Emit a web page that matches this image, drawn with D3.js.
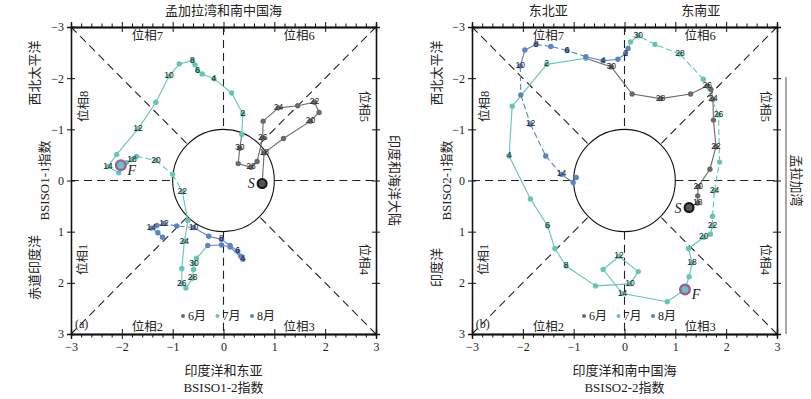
<!DOCTYPE html>
<html>
<head>
<meta charset="utf-8">
<script src="https://cdn.jsdelivr.net/npm/d3@7"></script>
<style>
body { margin: 0; background: #fff; }
text { font-family: "Liberation Serif", "Noto Sans CJK SC", serif; fill: #222; }
</style>
</head>
<body>
<div id="chart-area"></div>
<script>
// tick labels, legend
var ticks = [-3, -2, -1, 0, 1, 2, 3];
var months = ["6月", "7月", "8月"];
var colors = ["#6b6b6b", "#63c6b6", "#5b84c5"];

// panel (a): [day, BSISO1-2, BSISO1-1]
var junA = [[17,0.76,0.06],[18,0.80,-0.54],[19,1.18,-0.82],[20,1.71,-1.16],[21,1.88,-1.33],[22,1.79,-1.53],
  [23,1.46,-1.46],[24,1.08,-1.42],[25,0.78,-1.16],[26,0.77,-0.83],[27,0.66,-0.37],[28,0.54,-0.26],
  [29,0.29,-0.33],[30,0.32,-0.63]];
var julA = [[1,0.36,-0.90],[2,0.38,-1.30],[3,0.16,-1.71],[4,-0.19,-1.99],[5,-0.42,-2.08],[6,-0.51,-2.15],
  [7,-0.56,-2.26],[8,-0.61,-2.34],[9,-0.87,-2.28],[10,-1.07,-2.04],[11,-1.33,-1.53],[12,-1.68,-1.01],
  [13,-2.10,-0.51],[14,-2.27,-0.27],[15,-2.06,-0.15],[16,-2.02,-0.30],[17,-1.91,-0.35],[18,-1.80,-0.41],
  [19,-1.71,-0.47],[20,-1.33,-0.39],[21,-1.00,-0.12],[22,-0.81,0.22],[23,-0.70,0.78],[24,-0.77,1.19],
  [25,-0.82,1.72],[26,-0.82,2.02],[27,-0.74,2.10],[28,-0.61,1.91],[29,-0.59,1.74],[30,-0.58,1.62],[31,-0.53,1.52]];
var augA = [[1,-0.31,1.27],[2,-0.04,1.26],[3,0.13,1.30],[4,0.38,1.54],[5,0.34,1.48],[6,0.28,1.38],
  [7,0.13,1.27],[8,-0.04,1.15],[9,-0.29,1.09],[10,-0.59,0.92],[11,-0.92,0.89],[12,-1.17,0.84],
  [13,-1.31,0.88],[14,-1.42,0.93],[15,-1.29,1.02],[16,-1.20,1.11]];

// panel (b): [day, BSISO2-2, BSISO2-1]
var junB = [[17,1.27,0.53],[18,1.44,0.44],[19,1.44,0.30],[20,1.45,0.12],[21,1.68,-0.22],[22,1.80,-0.66],
  [23,1.75,-1.18],[24,1.74,-1.59],[25,1.70,-1.78],[26,1.63,-1.85],[27,1.30,-1.69],[28,0.71,-1.60],
  [29,0.15,-1.69],[30,-0.26,-2.22]];
var julB = [[1,-0.76,-2.39],[2,-1.53,-2.27],[3,-2.21,-1.45],[4,-2.27,-0.48],[5,-1.85,0.36],[6,-1.51,0.89],
  [7,-1.37,1.33],[8,-1.15,1.67],[9,-0.57,2.06],[10,0.11,2.02],[11,0.27,1.78],[12,-0.11,1.48],
  [13,-0.42,1.74],[14,-0.04,2.21],[15,0.84,2.37],[16,1.19,2.13],[17,1.27,1.88],[18,1.33,1.61],
  [19,1.26,1.33],[20,1.56,1.11],[21,1.69,1.05],[22,1.73,0.89],[23,1.73,0.70],[24,1.77,0.20],
  [25,1.87,-0.36],[26,1.85,-1.28],[27,1.55,-1.98],[28,1.09,-2.47],[29,0.60,-2.66],[30,0.27,-2.83],[31,0.12,-2.71]];
var augB = [[1,0.07,-2.58],[2,0.02,-2.48],[3,-0.13,-2.37],[4,-0.42,-2.34],[5,-0.76,-2.42],[6,-1.13,-2.54],
  [7,-1.45,-2.62],[8,-1.74,-2.66],[9,-1.96,-2.55],[10,-2.05,-2.24],[11,-2.04,-1.67],[12,-1.85,-1.10],
  [13,-1.55,-0.48],[14,-1.24,-0.12],[15,-1.01,0.04],[16,-0.95,-0.06]];

// labelled days
var labJunA = [18,20,22,24,26,28,30];
var labJulA = [2,4,6,8,10,12,14,18,20,22,24,26,28,30];
var labAugA = [4,6,8,10,12,14];
var labJunB = [18,20,22,24,26,28,30];
var labJulB = [2,4,6,8,10,12,14,18,20,22,24,26,28,30];
var labAugB = [2,4,6,8,10,12,14];

// dashed segments (start day)
var julDashA = [18,19,20,21];
var augDashA = [10,11];
var julDashB = [22,23,24,25,26,27,28,29];
var augDashB = [5,6,7,10,11,12,13];

var startDay = 17; // June, S
var finalDay = 16; // July, F

var svg = d3.select("#chart-area").append("svg")
  .attr("width", 811).attr("height", 399);

function fmt(v) { return v < 0 ? "\u2212" + Math.abs(v) : String(v); }

function panel(p) {
  var x = d3.scaleLinear().domain([-3, 3]).range([p.x0, p.x0 + 305]);
  var y = d3.scaleLinear().domain([-3, 3]).range([27, 334]);
  var g = svg.append("g");

  // dashed phase lines
  var d = 1 / Math.SQRT2;
  var guides = [[-3,0,-1,0],[1,0,3,0],[0,-3,0,-1],[0,1,0,3],
    [-3,-3,-d,-d],[3,-3,d,-d],[-3,3,-d,d],[3,3,d,d]];
  g.selectAll(".guide").data(guides).enter().append("line")
    .attr("x1", (l) => x(l[0])).attr("y1", (l) => y(l[1]))
    .attr("x2", (l) => x(l[2])).attr("y2", (l) => y(l[3]))
    .attr("stroke", "#222").attr("stroke-width", 1.1).attr("stroke-dasharray", "8,5");
  g.append("ellipse")
    .attr("cx", x(0)).attr("cy", y(0))
    .attr("rx", x(1) - x(0)).attr("ry", y(1) - y(0))
    .attr("fill", "none").attr("stroke", "#111").attr("stroke-width", 1.1);

  // axes
  var minor = d3.range(-2.8, 3, 0.2).filter((v) => Math.abs(v - Math.round(v)) > 0.01);
  function ax(gen, tr, sz, vals, lab) {
    var a = gen.tickValues(vals).tickSizeOuter(0).tickSize(sz)
      .tickFormat(lab ? fmt : "");
    var gg = g.append("g").attr("transform", tr).call(a);
    gg.selectAll("path").attr("stroke", "#111").attr("stroke-width", 1.3);
    gg.selectAll("line").attr("stroke", "#111").attr("stroke-width", 1);
    gg.selectAll("text").attr("font-size", 12).attr("font-family", "Liberation Serif").attr("fill", "#222");
  }
  ax(d3.axisBottom(x), "translate(0,334)", 5, ticks, true);
  ax(d3.axisBottom(x), "translate(0,334)", -5, ticks, false);
  ax(d3.axisBottom(x), "translate(0,334)", 3.5, minor, false);
  ax(d3.axisTop(x), "translate(0,27)", 5, ticks, false);
  ax(d3.axisTop(x), "translate(0,27)", -5, ticks, false);
  ax(d3.axisTop(x), "translate(0,27)", 3.5, minor, false);
  ax(d3.axisLeft(y), "translate(" + p.x0 + ",0)", 4, ticks, true);
  ax(d3.axisLeft(y), "translate(" + p.x0 + ",0)", -4, ticks, false);
  ax(d3.axisRight(y), "translate(" + (p.x0 + 305) + ",0)", 4, ticks, false);
  ax(d3.axisRight(y), "translate(" + (p.x0 + 305) + ",0)", -4, ticks, false);

  // phase labels
  var phases = [["位相7",-1.5,-2.84,0],["位相6",1.49,-2.84,0],["位相8",-2.75,-1.45,-90],["位相5",2.77,-1.45,90],
    ["位相1",-2.78,1.54,-90],["位相4",2.77,1.54,90],["位相2",-1.5,2.85,0],["位相3",1.49,2.85,0]];
  g.selectAll(".phase").data(phases).enter().append("text")
    .attr("transform", (t) => "translate(" + x(t[1]) + "," + y(t[2]) + ") rotate(" + t[3] + ")")
    .attr("text-anchor", "middle").attr("dy", "0.35em")
    .attr("font-size", 12.5).text((t) => t[0]);
  g.append("text").attr("x", x(-2.79)).attr("y", y(2.8)).attr("dy", "0.35em")
    .attr("text-anchor", "middle").attr("font-size", 12).text(p.tag);

  // trajectory
  var pts = [];
  [p.jun, p.jul, p.aug].forEach((arr, m) => {
    arr.forEach((r) => { pts.push({m: m, day: r[0], vx: r[1], vy: r[2]}); });
  });
  var segs = [];
  for (var i = 0; i < pts.length - 1; i++) {
    var a = pts[i], b = pts[i + 1];
    var dash = (a.m == 1 && p.julDash.indexOf(a.day) >= 0) || (a.m == 2 && p.augDash.indexOf(a.day) >= 0);
    segs.push({a: a, b: b, dash: dash});
  }
  g.selectAll(".seg").data(segs).enter().append("line")
    .attr("x1", (s) => x(s.a.vx)).attr("y1", (s) => y(s.a.vy))
    .attr("x2", (s) => x(s.b.vx)).attr("y2", (s) => y(s.b.vy))
    .attr("stroke", (s) => colors[s.a.m]).attr("stroke-width", 1.1)
    .attr("stroke-dasharray", (s) => s.dash ? "6,3" : null);
  g.selectAll(".pt").data(pts).enter().append("circle")
    .attr("cx", (q) => x(q.vx)).attr("cy", (q) => y(q.vy))
    .attr("r", 2.7).attr("fill", (q) => colors[q.m]);

  // S and F
  var s = pts.find((q) => q.m == 0 && q.day == startDay);
  var f = pts.find((q) => q.m == 1 && q.day == finalDay);
  g.append("circle").attr("cx", x(s.vx)).attr("cy", y(s.vy)).attr("r", 4.5)
    .attr("fill", "#555").attr("stroke", "#111").attr("stroke-width", 2);
  g.append("circle").attr("cx", x(f.vx)).attr("cy", y(f.vy)).attr("r", 4.8)
    .attr("fill", colors[1]).attr("stroke", "#a4569f").attr("stroke-width", 2.4);
  g.append("text").attr("x", x(s.vx) - 11).attr("y", y(s.vy)).attr("dy", "0.35em")
    .attr("text-anchor", "middle").attr("font-style", "italic").attr("font-size", 14).text("S");
  g.append("text").attr("x", x(f.vx) + 11).attr("y", y(f.vy) + 5).attr("dy", "0.35em")
    .attr("text-anchor", "middle").attr("font-style", "italic").attr("font-size", 14).text("F");

  // day labels
  var labs = [p.labJun, p.labJul, p.labAug];
  var lp = pts.filter((q) => labs[q.m].indexOf(q.day) >= 0);
  g.selectAll(".lab").data(lp).enter().append("text")
    .attr("x", (q) => x(q.vx)).attr("y", (q) => y(q.vy))
    .attr("dy", "0.25em").attr("text-anchor", "middle")
    .attr("font-size", 8.5).attr("fill", "#1a1a1a")
    .style("font-family", "Liberation Sans").text((q) => q.day);

  // legend
  var lg = g.append("g").attr("transform", "translate(" + p.legX + ",316)");
  months.forEach((mn, k) => {
    lg.append("circle").attr("cx", k * 34.5).attr("cy", 0).attr("r", 2).attr("fill", colors[k]);
    lg.append("text").attr("x", k * 34.5 + 5).attr("y", 0).attr("dy", "0.35em")
      .attr("font-size", 12).text(mn);
  });

  // outer titles
  g.append("text").attr("x", x(0)).attr("y", 370).attr("dy", "0.35em").attr("text-anchor", "middle")
    .attr("font-size", 13).text(p.bottom1);
  g.append("text").attr("x", x(0)).attr("y", 387).attr("dy", "0.35em").attr("text-anchor", "middle")
    .attr("font-size", 13).text(p.bottom2);
  p.top.forEach((t) => {
    g.append("text").attr("x", x(t[1])).attr("y", 10).attr("dy", "0.35em").attr("text-anchor", "middle")
      .attr("font-size", 13).text(t[0]);
  });
  p.left.forEach((t) => {
    g.append("text").attr("transform", "translate(" + t[2] + "," + y(t[1]) + ") rotate(-90)")
      .attr("dy", "0.35em").attr("text-anchor", "middle").attr("font-size", 13).text(t[0]);
  });
  g.append("text").attr("transform", "translate(" + p.rightX + "," + y(0) + ") rotate(90)")
    .attr("dy", "0.35em").attr("text-anchor", "middle").attr("font-size", 13).text(p.right);
}

panel({x0: 71, tag: "(a)", jun: junA, jul: julA, aug: augA,
  labJun: labJunA, labJul: labJulA, labAug: labAugA, julDash: julDashA, augDash: augDashA,
  legX: 183, bottom1: "印度洋和东亚", bottom2: "BSISO1-2指数",
  top: [["孟加拉湾和南中国海", 0]],
  left: [["西北太平洋", -2.1, 34], ["BSISO1-1指数", 0, 44], ["赤道印度洋", 1.7, 34]],
  right: "印度和海洋大陆", rightX: 395});

panel({x0: 472, tag: "(b)", jun: junB, jul: julB, aug: augB,
  labJun: labJunB, labJul: labJulB, labAug: labAugB, julDash: julDashB, augDash: augDashB,
  legX: 584, bottom1: "印度洋和南中国海", bottom2: "BSISO2-2指数",
  top: [["东北亚", -1.5], ["东南亚", 1.5]],
  left: [["西北太平洋", -2.1, 436], ["BSISO2-1指数", 0, 446], ["印度洋", 1.7, 436]],
  right: "孟拉加湾", rightX: 797});

// gray edge line right of panel (b)
svg.append("line").attr("x1", 786).attr("x2", 786).attr("y1", 77).attr("y2", 334)
  .attr("stroke", "#a0a0a0").attr("stroke-width", 1.8);
</script>
</body>
</html>
